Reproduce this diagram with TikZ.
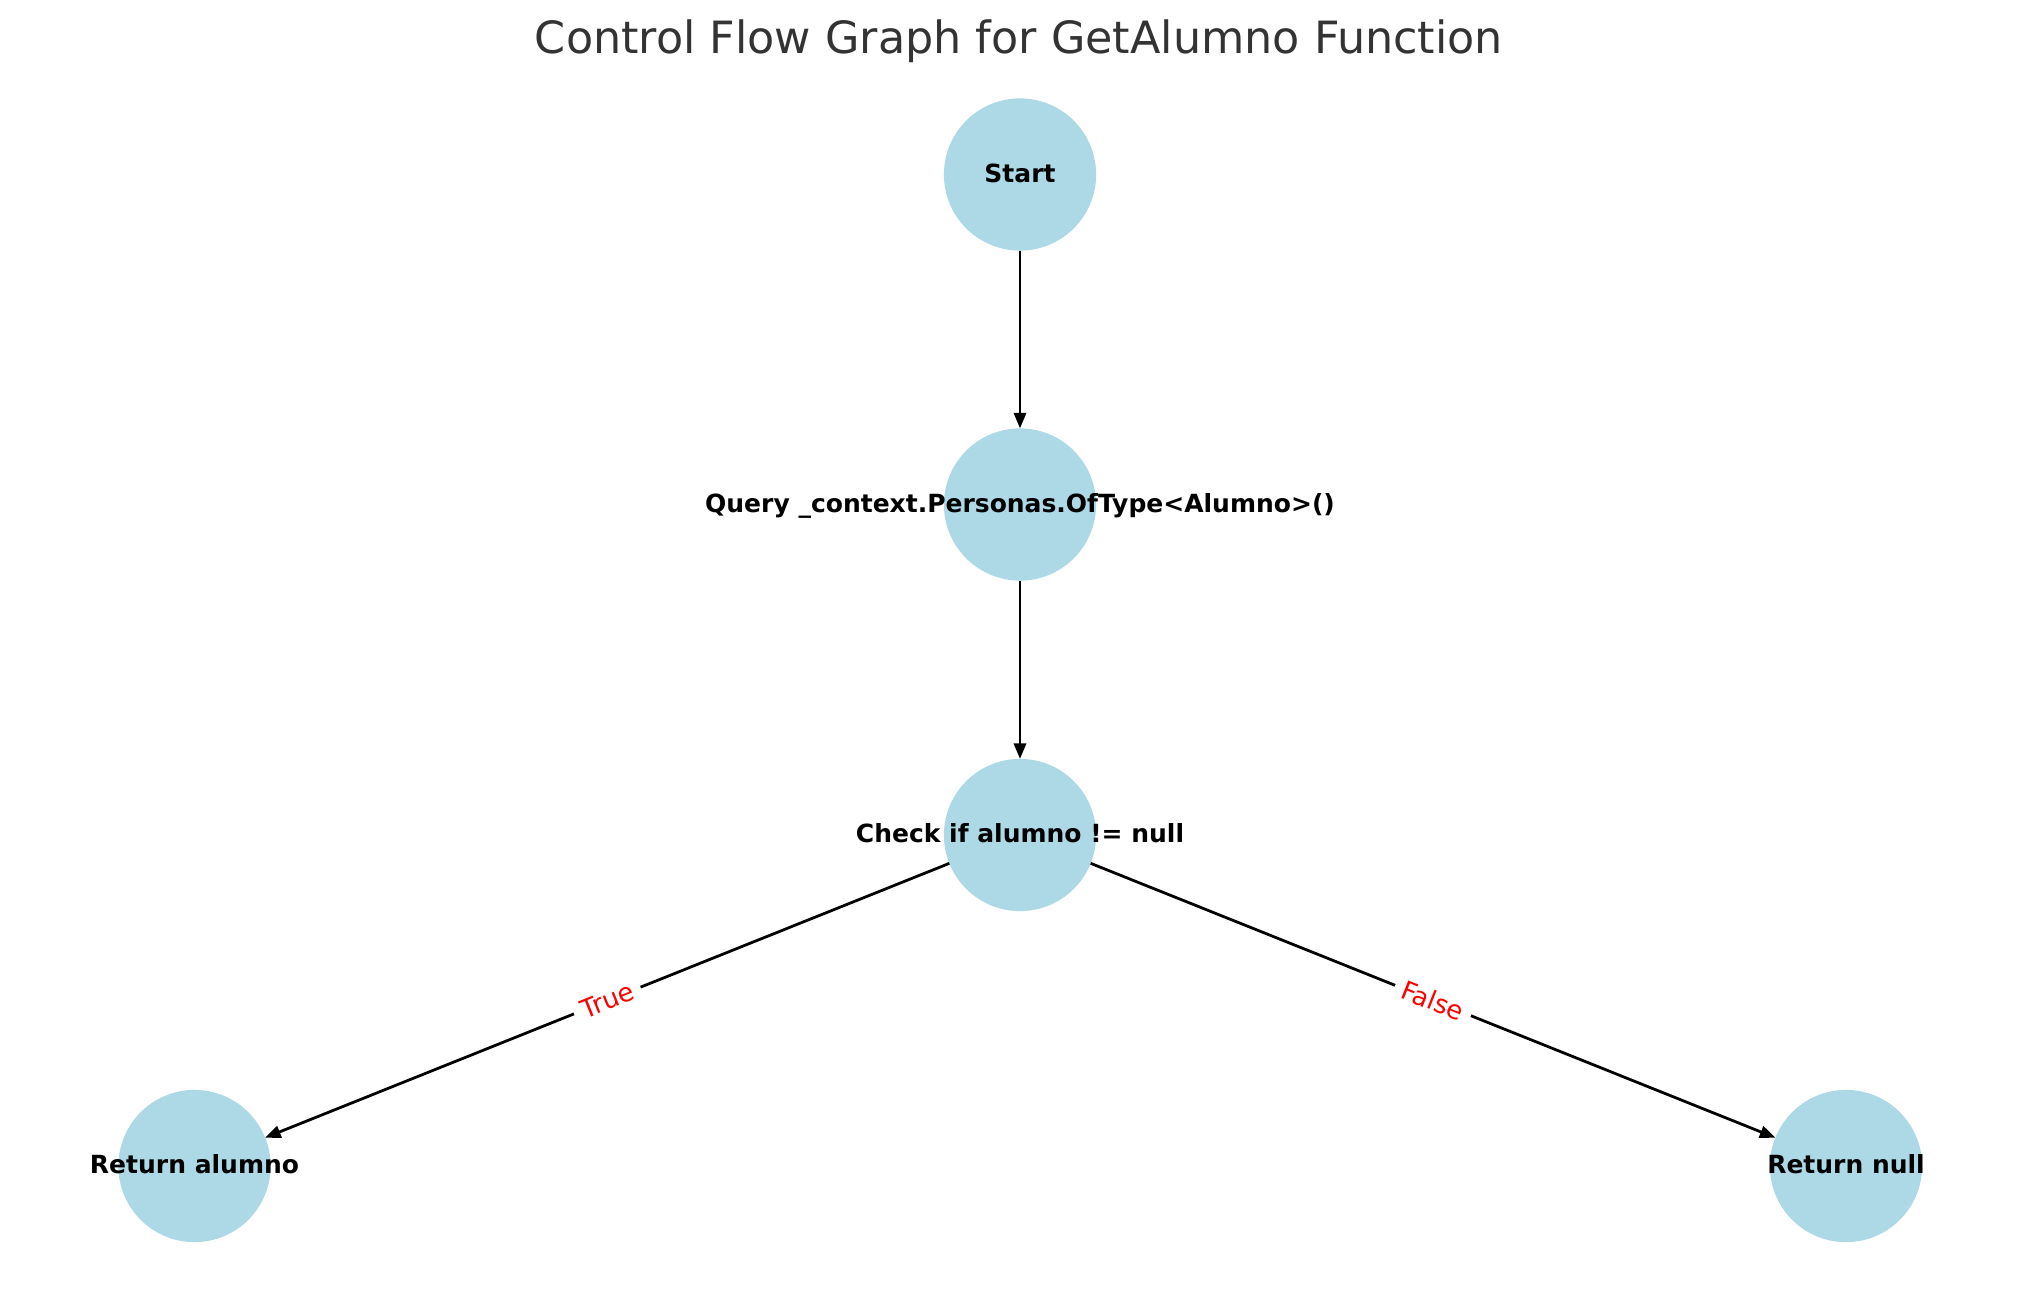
\documentclass[tikz,border=0pt]{standalone}
\usepackage{fontspec}
\setmainfont{DejaVu Sans}
\usetikzlibrary{arrows.meta}
\definecolor{nodeblue}{HTML}{ADD8E6}
\definecolor{titlegray}{HTML}{333333}
\begin{document}
\begin{tikzpicture}[x=0.36pt,y=-0.36pt,
 cnode/.style={circle,fill=nodeblue,minimum size=54.8pt,inner sep=0pt,outer sep=0pt},
 lbl/.style={font=\fontsize{9}{10}\selectfont\bfseries,anchor=base,inner sep=0pt,yshift=-2.7pt},
 flow/.style={draw=black,line width=1pt,-{Triangle[length=5.6pt,width=4.4pt]}},
 elbl/.style={font=\fontsize{9.3}{10}\selectfont,text=red,fill=white,inner xsep=3pt,inner ysep=1.5pt,sloped}]
\useasboundingbox[fill=white] (0,0) rectangle (2039,1290);
\node[font=\fontsize{16}{19}\selectfont,text=titlegray,anchor=base,inner sep=0pt] (title) at (1019,53) {Control Flow Graph for GetAlumno Function};
\node[cnode] (start) at (1020,174.5) {};
\node[cnode] (query) at (1020,504.5) {};
\node[cnode] (check) at (1020,835) {};
\node[cnode] (ralumno) at (194.5,1166) {};
\node[cnode] (rnull) at (1846,1166) {};
\draw[flow] (start) -- (query);
\draw[flow] (query) -- (check);
\draw[flow] (check) -- node[elbl] (tlbl) {True} (ralumno);
\draw[flow] (check) -- node[elbl] (flbl) {False} (rnull);
\node[lbl] (startl) at (start.center) {Start};
\node[lbl] (queryl) at (query.center) {Query \_context.Personas.OfType<Alumno>()};
\node[lbl] (checkl) at (check.center) {Check if alumno != null};
\node[lbl] (ralumnol) at (ralumno.center) {Return alumno};
\node[lbl] (rnulll) at (rnull.center) {Return null};
\end{tikzpicture}
\end{document}
